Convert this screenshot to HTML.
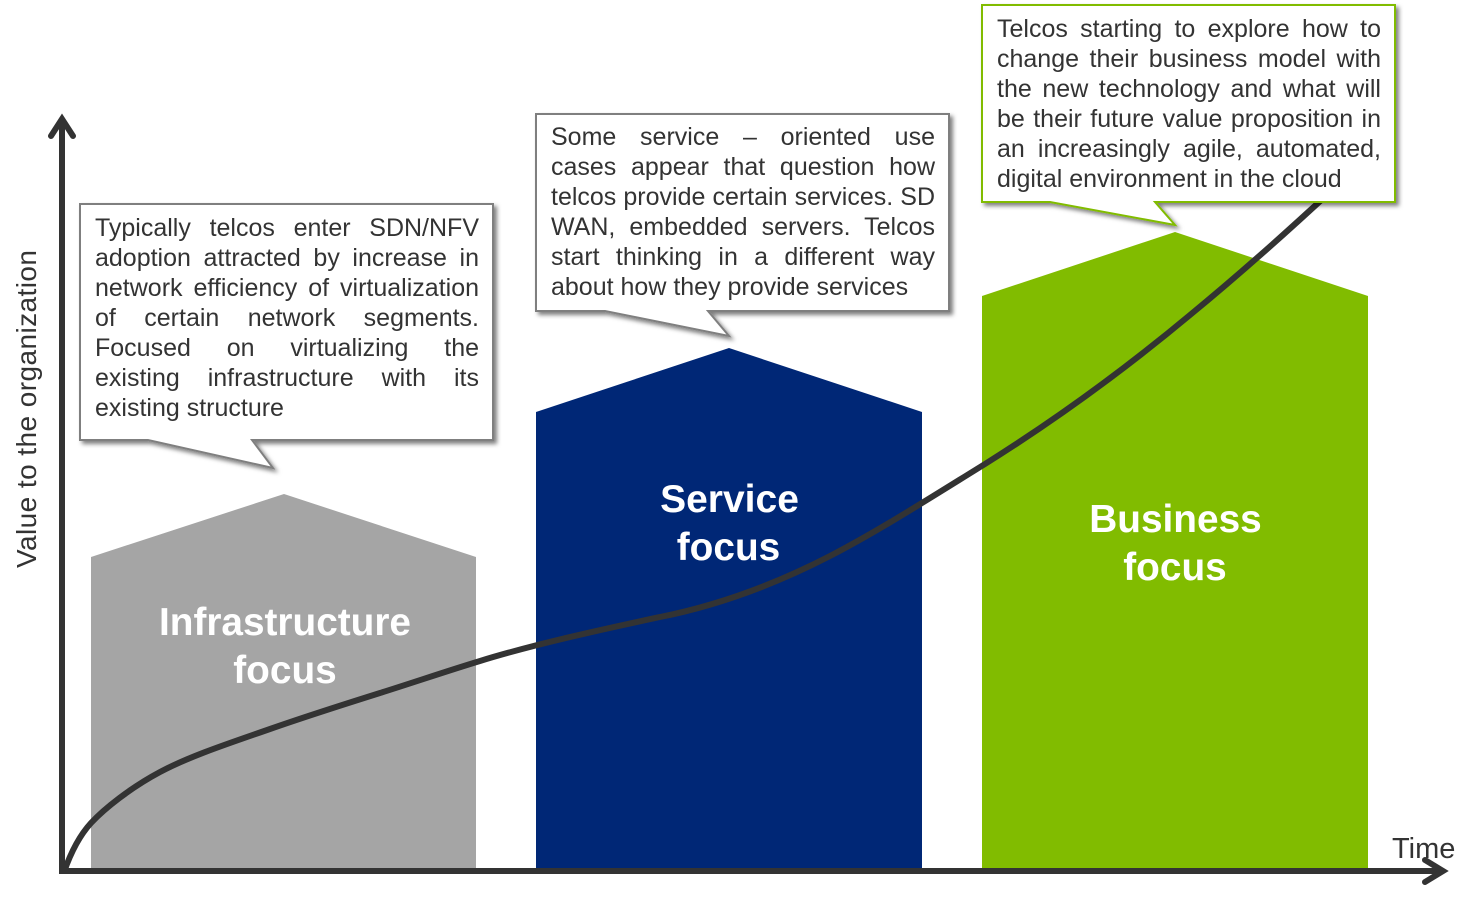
<!DOCTYPE html>
<html><head><meta charset="utf-8"><style>
html,body{margin:0;padding:0;background:#fff}
#p{position:relative;width:1476px;height:898px;overflow:hidden;background:#fff;font-family:"Liberation Sans",sans-serif}
#p svg{position:absolute;left:0;top:0}
.l{position:absolute;height:30px;line-height:30px;font-size:25px;color:#333;white-space:nowrap;text-align:justify;text-align-last:justify;white-space:normal;width:384px}
.e{text-align-last:left;white-space:nowrap}
</style></head><body><div id="p">
<svg width="1476" height="898" viewBox="0 0 1476 898">
<defs><filter id="s" x="-10%" y="-10%" width="120%" height="125%"><feDropShadow dx="3" dy="3" stdDeviation="2.2" flood-color="#000" flood-opacity=".5"/></filter></defs>
<polygon points="91,557 284,494 476,557 476,868 91,868" fill="#a5a5a5"/>
<polygon points="536,412 729,348 922,412 922,868 536,868" fill="#002776"/>
<polygon points="982,296 1175,232 1368,296 1368,868 982,868" fill="#81bc00"/>
<path d="M64,872C71,852 80,835 91,823C104,809 130,788 160,772C190,756 230,743 270,729C310,715 345,704 380,693C415,682 447,671 480,661C535,644 600,630 660,617C715,606 770,587 830,556C880,530 930,498 985,464C1060,417 1130,365 1190,315C1235,278 1275,243 1330,192" fill="none" stroke="#333" stroke-width="6"/>
<path d="M62,874V122" fill="none" stroke="#333" stroke-width="6"/>
<path d="M51,136L62,119L73,136" fill="none" stroke="#333" stroke-width="6" stroke-linecap="round" stroke-linejoin="miter"/>
<path d="M59,871H1440" fill="none" stroke="#333" stroke-width="6"/>
<path d="M1425,860L1443,871L1425,882" fill="none" stroke="#333" stroke-width="6" stroke-linecap="round" stroke-linejoin="miter"/>
<polygon points="80,204 493,204 493,440 252,440 273,468 148,440 80,440" fill="#fff" stroke="#7f7f7f" stroke-width="2" filter="url(#s)"/>
<polygon points="536,114 949,114 949,311 708,311 729,336 605,311 536,311" fill="#fff" stroke="#7f7f7f" stroke-width="2" filter="url(#s)"/>
<polygon points="982,5 1395,5 1395,202 1155,202 1175,225 1050,202 982,202" fill="#fff" stroke="#81bc00" stroke-width="2" filter="url(#s)"/>
<text x="159" y="635" font-family="Liberation Sans" font-weight="700" font-size="38.8" fill="#fff" textLength="252">Infrastructure</text>
<text x="285" y="683" text-anchor="middle" font-family="Liberation Sans" font-weight="700" font-size="38.8" fill="#fff">focus</text>
<text x="729.5" y="512" text-anchor="middle" font-family="Liberation Sans" font-weight="700" font-size="39" fill="#fff">Service</text>
<text x="728.5" y="560" text-anchor="middle" font-family="Liberation Sans" font-weight="700" font-size="38.8" fill="#fff">focus</text>
<text x="1175.5" y="532" text-anchor="middle" font-family="Liberation Sans" font-weight="700" font-size="38.8" fill="#fff">Business</text>
<text x="1175" y="580" text-anchor="middle" font-family="Liberation Sans" font-weight="700" font-size="38.8" fill="#fff">focus</text>
<text x="1392" y="858" font-family="Liberation Sans" font-size="29" fill="#333">Time</text>
<text transform="translate(36,568) rotate(-90)" font-family="Liberation Sans" font-size="28" fill="#333" textLength="318">Value to the organization</text>
</svg>
<div class="l" style="left:95px;top:213px">Typically telcos enter SDN/NFV</div>
<div class="l" style="left:95px;top:243px">adoption attracted by increase in</div>
<div class="l" style="left:95px;top:273px">network efficiency of virtualization</div>
<div class="l" style="left:95px;top:303px">of certain network segments.</div>
<div class="l" style="left:95px;top:333px">Focused on virtualizing the</div>
<div class="l" style="left:95px;top:363px">existing infrastructure with its</div>
<div class="l e" style="left:95px;top:393px">existing structure</div>
<div class="l" style="left:551px;top:122px">Some service – oriented use</div>
<div class="l" style="left:551px;top:152px">cases appear that question how</div>
<div class="l" style="left:551px;top:182px">telcos provide certain services. SD</div>
<div class="l" style="left:551px;top:212px">WAN, embedded servers. Telcos</div>
<div class="l" style="left:551px;top:242px">start thinking in a different way</div>
<div class="l e" style="left:551px;top:272px">about how they provide services</div>
<div class="l" style="left:997px;top:14px">Telcos starting to explore how to</div>
<div class="l" style="left:997px;top:44px">change their business model with</div>
<div class="l" style="left:997px;top:74px">the new technology and what will</div>
<div class="l" style="left:997px;top:104px">be their future value proposition in</div>
<div class="l" style="left:997px;top:134px">an increasingly agile, automated,</div>
<div class="l e" style="left:997px;top:164px">digital environment in the cloud</div>
</div></body></html>
